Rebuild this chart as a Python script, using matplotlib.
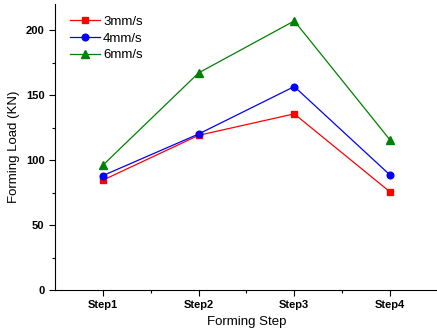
import matplotlib
matplotlib.use("Agg")
import matplotlib.pyplot as plt
from matplotlib.ticker import MultipleLocator, FixedLocator

steps = ["Step1", "Step2", "Step3", "Step4"]
load_3mm = [84.5, 119, 135.5, 75.5]
load_4mm = [88, 120, 156.5, 88.5]
load_6mm = [96, 167, 207, 115.5]

plt.rcParams['font.family'] = ['Liberation Sans', 'DejaVu Sans']

fig = plt.figure(figsize=(4.37, 3.35), dpi=100)
ax = fig.add_axes([0.1259, 0.1343, 0.876, 0.8537])

x = list(range(1, len(steps) + 1))
ax.plot(x, load_3mm, color='red', marker='s', markersize=4.2, linewidth=0.9, label='3mm/s')
ax.plot(x, load_4mm, color='blue', marker='o', markersize=4.8, linewidth=0.9, label='4mm/s')
ax.plot(x, load_6mm, color='green', marker='^', markersize=5.5, linewidth=0.9, label='6mm/s')

ax.set_xlim(0.5, 4.5)
ax.set_ylim(0, 220)
ax.set_xticks(x)
ax.set_xticklabels(steps, fontweight='bold', fontsize=8)
ax.xaxis.set_minor_locator(FixedLocator([1.5, 2.5, 3.5]))
ax.yaxis.set_major_locator(MultipleLocator(50))
ax.yaxis.set_minor_locator(MultipleLocator(25))
for lbl in ax.get_yticklabels():
    lbl.set_fontweight('bold')
    lbl.set_fontsize(8)

ax.tick_params(which='major', direction='out', length=4, width=0.8)
ax.tick_params(which='minor', direction='out', length=2.5, width=0.8)
ax.spines['top'].set_visible(False)
ax.spines['right'].set_visible(False)

ax.set_xlabel("Forming Step", fontsize=9.5)
ax.set_ylabel("Forming Load (KN)", fontsize=9.5)

ax.legend(loc='upper left', frameon=False, fontsize=9.5, handlelength=2.27,
          handletextpad=0.25, borderaxespad=0, labelspacing=0.34,
          bbox_to_anchor=(0.025, 0.978))

fig.savefig("out.png", dpi=100)
